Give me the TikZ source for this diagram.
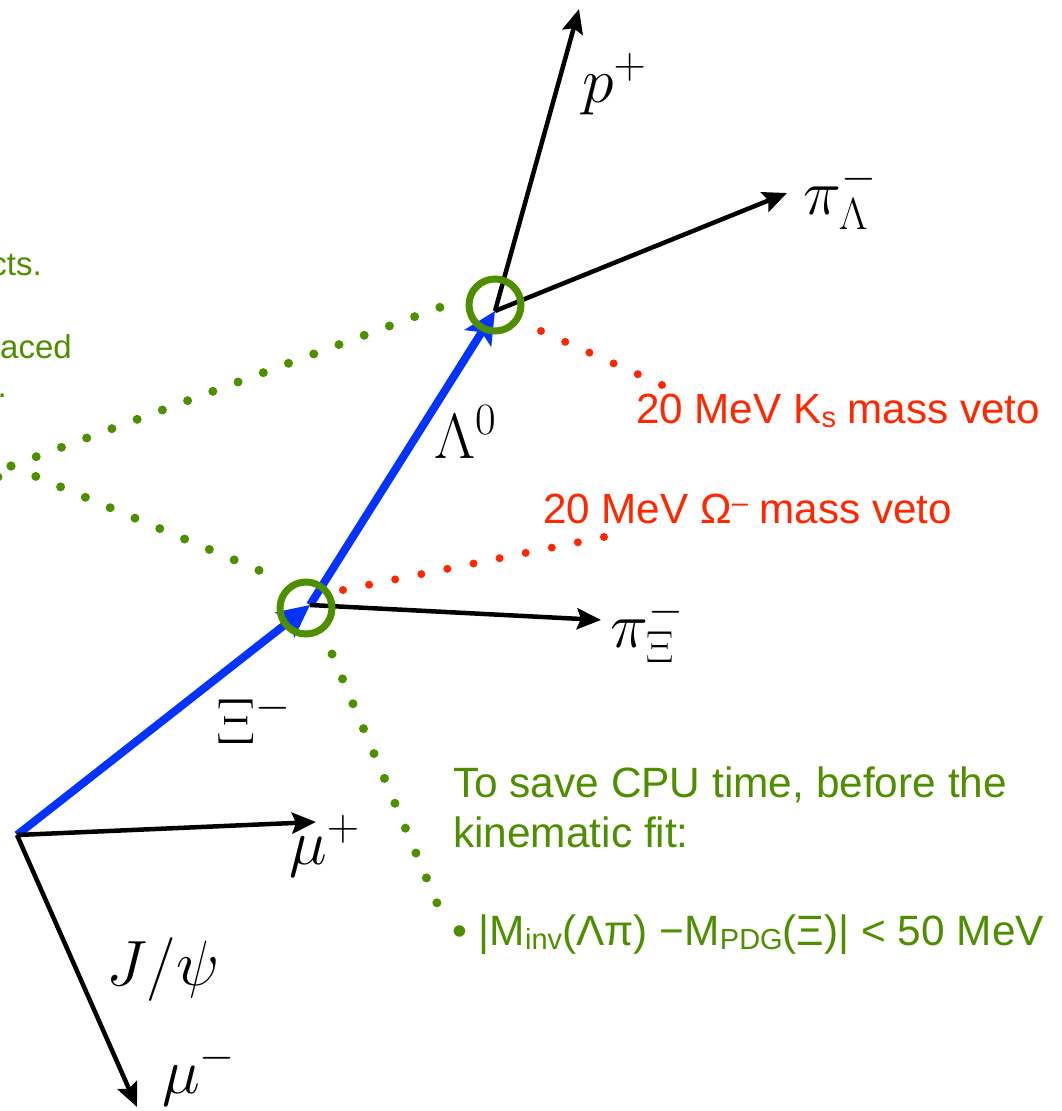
\RequirePackage{fix-cm}
\documentclass[tikz,border=0pt]{standalone}
\usepackage{fontspec}
\newfontfamily\arial{Liberation Sans}
\usetikzlibrary{arrows.meta}
\definecolor{kgreen}{RGB}{78,143,0}
\definecolor{kred}{RGB}{255,38,0}
\definecolor{kblue}{RGB}{4,51,255}
\newcommand\lsub[1]{\raisebox{-4pt}{\fontsize{29}{29}\selectfont #1}}
\tikzset{
  blk/.style={draw=black, line width=4.5pt, -{Stealth[length=24pt,width=21pt,inset=4pt]}},
  blu/.style={draw=kblue, line width=8pt, -{Stealth[length=32pt,width=31pt,inset=7pt]}},
  gdots/.style={draw=kgreen, line width=9pt, line cap=round, dash pattern=on 0pt off 26.9pt},
  rdots/.style={draw=kred, line width=8pt, line cap=round, dash pattern=on 0pt off 26.5pt},
  vtx/.style={circle, draw=kgreen, line width=7pt, minimum size=52pt, inner sep=0pt},
  mlab/.style={font=\fontsize{64}{66}\selectfont, inner sep=0pt},
  gtxt/.style={text=kgreen, font=\arial\fontsize{42.4}{50}\selectfont, inner sep=0pt},
  gsmall/.style={text=kgreen, font=\arial\fontsize{33}{40}\selectfont, inner sep=0pt},
  rtxt/.style={text=kred, font=\arial\fontsize{42.2}{50}\selectfont, inner sep=0pt},
}
\begin{document}
\begin{tikzpicture}[x=1pt,y=-1pt]
\useasboundingbox (0,0) rectangle (1061,1111);
\clip (0,0) rectangle (1061,1111);
% vertices
\coordinate (pv) at (17,835);
\coordinate (xv) at (310,605);
\coordinate (lv) at (495,311);
% tips
\coordinate (ptip) at (579,9);
\coordinate (pltip) at (787,193);
\coordinate (pxtip) at (601,620);
\coordinate (muptip) at (316,822);
\coordinate (mumtip) at (137,1107);
% dotted guides
\coordinate (src) at (11,466);
\coordinate (g1) at (465,298);
\coordinate (g2) at (282,580);
\coordinate (g3s) at (332,654);
\coordinate (g3e) at (437,903);
\draw[gdots] (src) -- (g1);
\draw[gdots] (src) -- (g2);
\draw[gdots, dash pattern=on 0pt off 27pt] (g3s) -- (g3e);
\fill[kgreen] (-2,477) circle (4.5pt);
\coordinate (r1s) at (541,331);
\coordinate (r1e) at (662,385);
\coordinate (r2s) at (343,590);
\coordinate (r2e) at (604,537);
\draw[rdots] (r1s) -- (r1e);
\draw[rdots, dash pattern=on 0pt off 26.63pt] (r2s) -- (r2e);
% tracks
\draw[blu] (pv) -- (xv);
\draw[blu] (xv) -- (lv);
\draw[blk] (lv) -- (ptip);
\draw[blk] (lv) -- (pltip);
\draw[blk] (xv) -- (pxtip);
\draw[blk] (pv) -- (muptip);
\draw[blk] (pv) -- (mumtip);
% vertex circles
\node[vtx] (xc) at (306,608) {};
\node[vtx] (lc) at (495,305) {};
% math labels
\node[mlab, anchor=base west] (lp) at (582,102) {$p^+$};
\node[mlab, anchor=base west] (lpl) at (803,214) {$\pi^-_\Lambda$};
\node[mlab, anchor=base west] (llam) at (434,458) {$\Lambda^0$};
\node[mlab, anchor=base west] (lxi) at (216,743) {$\Xi^-$};
\node[mlab, anchor=base west] (lpx) at (610,647) {$\pi^-_\Xi$};
\node[mlab, anchor=base west] (lmup) at (289,864) {$\mu^+$};
\node[mlab, anchor=base west] (ljpsi) at (106,985) {$J/\psi$};
\node[mlab, anchor=base west] (lmum) at (162,1093) {$\mu^-$};
% red texts
\node[rtxt, anchor=base west] (tks) at (636,423) {20 MeV K\lsub{s} mass veto};
\node[rtxt, anchor=base west] (tom) at (543,523) {20 MeV Ω\raisebox{11pt}{\fontsize{29}{29}\selectfont –} mass veto};
% green texts
\node[gtxt, anchor=base west] (t1) at (453,797) {To save CPU time, before the};
\node[gtxt, anchor=base west] (t2) at (453,847) {kinematic fit:};
\node[gtxt, anchor=base west] (t3) at (452,945) {• |M\lsub{inv}(Λπ) −M\lsub{PDG}(Ξ)| < 50 MeV};
\node[gsmall, anchor=base east] (c1) at (42,275) {cts.};
\node[gsmall, anchor=base east] (c2) at (72,358) {aced};
\node[gsmall, anchor=base east] (c3) at (7,397) {.};
\end{tikzpicture}
\end{document}
